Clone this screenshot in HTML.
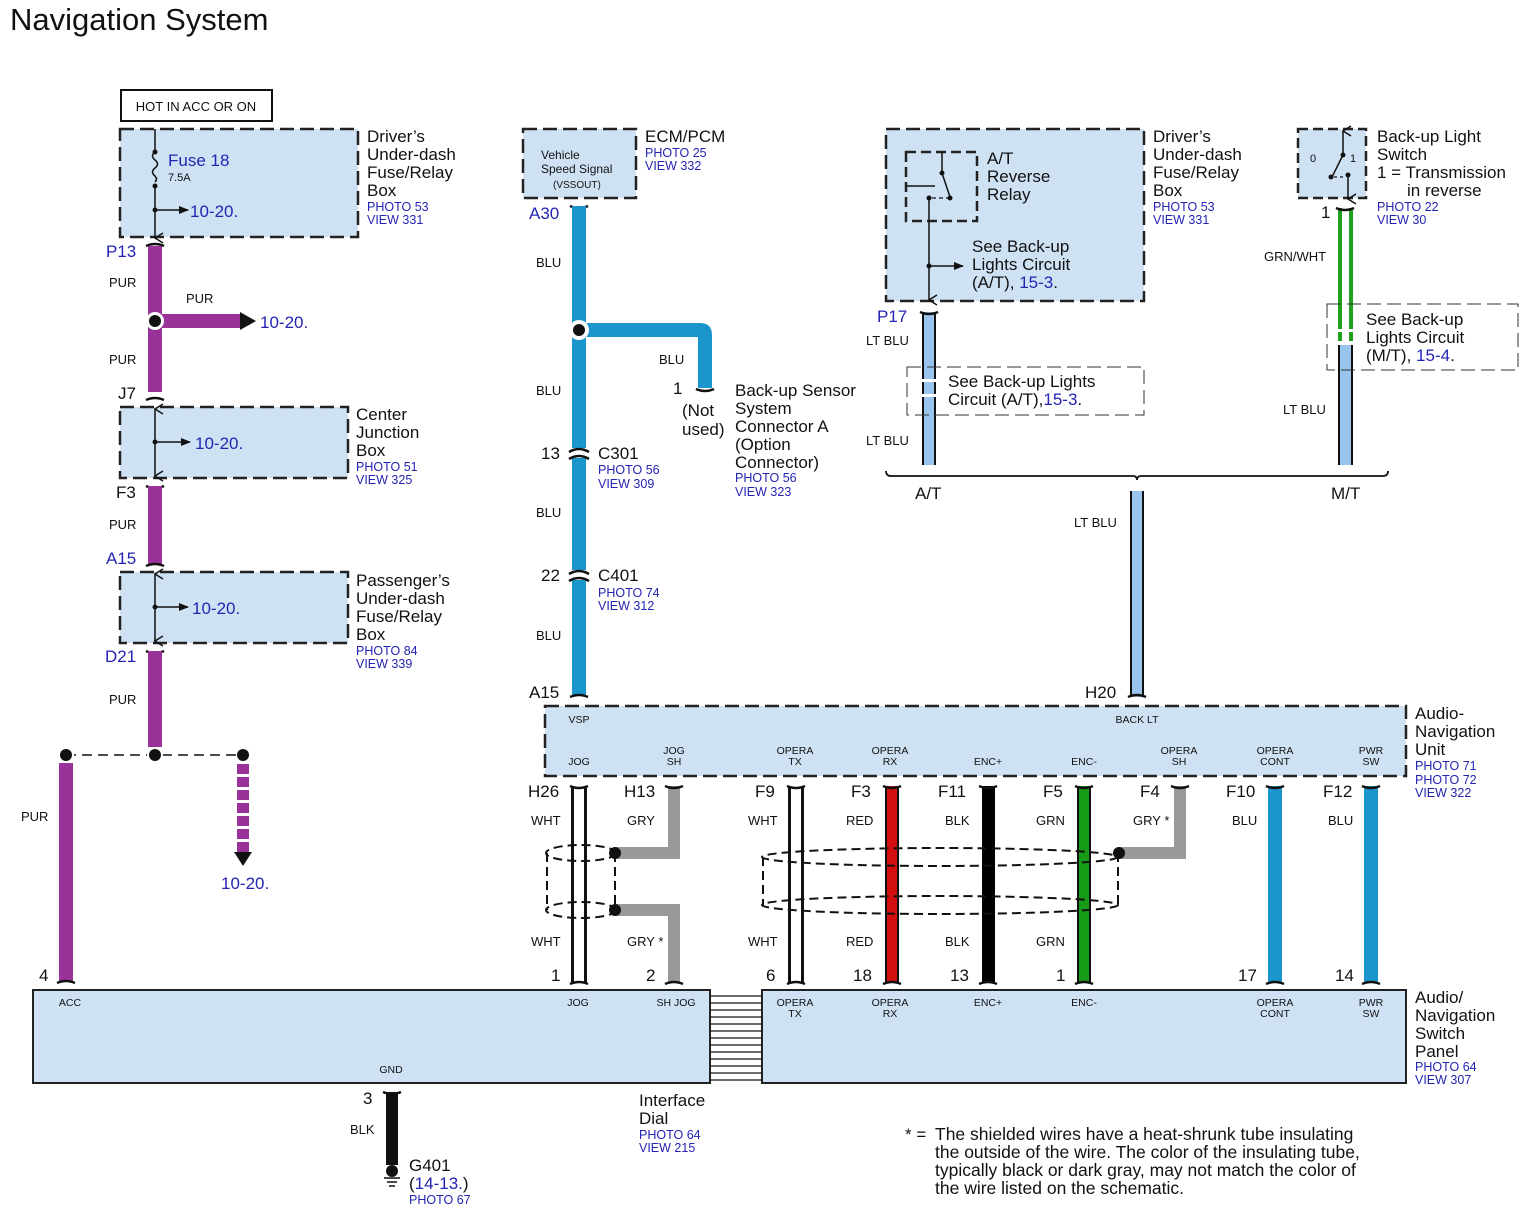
<!DOCTYPE html>
<html><head><meta charset="utf-8"><style>
html,body{margin:0;padding:0;background:#fff;}
svg{display:block;font-family:"Liberation Sans",Arial,sans-serif;}
.L{font-size:17px;fill:#111;}
.B{font-size:17px;fill:#2424b4;}
.P{font-size:12.5px;fill:#2424b4;}
.W{font-size:13px;fill:#111;}
.s{font-size:10.5px;fill:#111;}
.n{font-size:17px;fill:#111;}
.box{fill:#cfe2f3;stroke:#222;stroke-width:2.5;stroke-dasharray:14 6;}
.sbox{fill:#cfe2f3;stroke:#222;stroke-width:2;}
.cap{fill:none;stroke:#111;stroke-width:2.5;}
</style></head><body>
<svg width="1526" height="1222" viewBox="0 0 1526 1222" xmlns="http://www.w3.org/2000/svg">
<defs>
<marker id="ar" markerWidth="10" markerHeight="10" refX="9" refY="5" orient="auto" markerUnits="userSpaceOnUse"><path d="M0,1 L10,5 L0,9 z" fill="#111"/></marker>
<marker id="av" markerWidth="12" markerHeight="10" refX="6" refY="9" orient="auto" markerUnits="userSpaceOnUse"><path d="M1,1 L6,9 L11,1" fill="none" stroke="#111" stroke-width="1.5"/></marker>
</defs>
<text x="10" y="30" style="font-size:31px;fill:#111">Navigation System</text>

<!-- LEFT COLUMN -->
<rect x="121" y="90" width="151" height="31" fill="#fff" stroke="#111" stroke-width="2"/>
<text x="196" y="111" text-anchor="middle" style="font-size:13px;fill:#111">HOT IN ACC OR ON</text>
<rect class="box" x="120" y="129" width="238" height="108"/>
<line x1="155" y1="129" x2="155" y2="152" stroke="#111" stroke-width="1.5"/>
<path d="M155,152 q-5,4 0,8 q5,4 0,8 q-5,4 0,8 q3,3 0,6" fill="none" stroke="#111" stroke-width="1.5"/>
<circle cx="155" cy="152" r="2.5" fill="#111"/><circle cx="155" cy="186" r="2.5" fill="#111"/>
<line x1="155" y1="186" x2="155" y2="238" stroke="#111" stroke-width="1.5" marker-end="url(#av)"/>
<circle cx="155" cy="210" r="2.5" fill="#111"/>
<line x1="155" y1="210" x2="188" y2="210" stroke="#111" stroke-width="1.5" marker-end="url(#ar)"/>
<text x="168" y="166" class="B">Fuse 18</text>
<text x="168" y="181" style="font-size:11px;fill:#111">7.5A</text>
<text x="190" y="217" class="B">10-20.</text>
<text x="367" y="142" class="L">Driver’s</text><text x="367" y="160" class="L">Under-dash</text><text x="367" y="178" class="L">Fuse/Relay</text><text x="367" y="196" class="L">Box</text>
<text x="367" y="211" class="P">PHOTO 53</text><text x="367" y="224" class="P">VIEW 331</text>

<text x="106" y="257" class="B">P13</text>
<path class="cap" d="M146,246 q9,-4 18,0"/>
<rect x="148" y="246" width="14" height="146" fill="#993399"/>
<rect x="162" y="314" width="78" height="14" fill="#993399"/>
<path d="M240,312 L256,321 L240,330 z" fill="#111"/>
<circle cx="155" cy="321" r="9" fill="#fff"/><circle cx="155" cy="321" r="6" fill="#111"/>
<text x="260" y="328" class="B">10-20.</text>
<text x="109" y="287" class="W">PUR</text><text x="186" y="303" class="W">PUR</text><text x="109" y="364" class="W">PUR</text>
<path class="cap" d="M146,400 q9,-4 18,0"/>
<text x="118" y="399" class="n">J7</text>
<rect class="box" x="120" y="407" width="228" height="71"/>
<line x1="155" y1="409" x2="155" y2="476" stroke="#111" stroke-width="1.5" marker-start="url(#av)" marker-end="url(#av)"/>
<circle cx="155" cy="442" r="2.5" fill="#111"/>
<line x1="155" y1="442" x2="190" y2="442" stroke="#111" stroke-width="1.5" marker-end="url(#ar)"/>
<text x="195" y="449" class="B">10-20.</text>
<text x="356" y="420" class="L">Center</text><text x="356" y="438" class="L">Junction</text><text x="356" y="456" class="L">Box</text>
<text x="356" y="471" class="P">PHOTO 51</text><text x="356" y="484" class="P">VIEW 325</text>
<text x="116" y="498" class="n">F3</text>
<path class="cap" d="M146,486 q9,4 18,0"/>
<rect x="148" y="486" width="14" height="78" fill="#993399"/>
<text x="109" y="529" class="W">PUR</text>
<text x="106" y="564" class="B">A15</text>
<path class="cap" d="M146,566 q9,-4 18,0"/>
<rect class="box" x="120" y="572" width="228" height="71"/>
<line x1="155" y1="574" x2="155" y2="641" stroke="#111" stroke-width="1.5" marker-start="url(#av)" marker-end="url(#av)"/>
<circle cx="155" cy="607" r="2.5" fill="#111"/>
<line x1="155" y1="607" x2="188" y2="607" stroke="#111" stroke-width="1.5" marker-end="url(#ar)"/>
<text x="192" y="614" class="B">10-20.</text>
<text x="356" y="586" class="L">Passenger’s</text><text x="356" y="604" class="L">Under-dash</text><text x="356" y="622" class="L">Fuse/Relay</text><text x="356" y="640" class="L">Box</text>
<text x="356" y="655" class="P">PHOTO 84</text><text x="356" y="668" class="P">VIEW 339</text>
<text x="105" y="662" class="B">D21</text>
<path class="cap" d="M146,651 q9,4 18,0"/>
<rect x="148" y="651" width="14" height="96" fill="#993399"/>
<text x="109" y="704" class="W">PUR</text>
<line x1="66" y1="755" x2="243" y2="755" stroke="#111" stroke-width="1.5" stroke-dasharray="10 6"/>
<rect x="59" y="763" width="14" height="218" fill="#993399"/>
<circle cx="66" cy="755" r="8" fill="#fff"/><circle cx="66" cy="755" r="6" fill="#111"/>
<circle cx="155" cy="755" r="8" fill="#fff"/><circle cx="155" cy="755" r="6" fill="#111"/>
<circle cx="243" cy="755" r="6" fill="#111"/>
<line x1="243" y1="764" x2="243" y2="852" stroke="#993399" stroke-width="12" stroke-dasharray="10 3"/>
<path d="M234,852 L252,852 L243,866 z" fill="#111"/>
<text x="221" y="889" class="B">10-20.</text>
<text x="21" y="821" class="W">PUR</text>
<text x="39" y="981" class="n">4</text>
<path class="cap" d="M57,983 q9,-4 18,0"/>

<!-- BOTTOM PANEL -->
<rect class="sbox" x="33" y="990" width="677" height="93"/>
<rect class="sbox" x="762" y="990" width="644" height="93"/>
<g stroke="#111" stroke-width="1.3">
<line x1="710" y1="996" x2="762" y2="996"/><line x1="710" y1="1003" x2="762" y2="1003"/><line x1="710" y1="1010" x2="762" y2="1010"/><line x1="710" y1="1017" x2="762" y2="1017"/><line x1="710" y1="1024" x2="762" y2="1024"/><line x1="710" y1="1031" x2="762" y2="1031"/><line x1="710" y1="1038" x2="762" y2="1038"/><line x1="710" y1="1045" x2="762" y2="1045"/><line x1="710" y1="1052" x2="762" y2="1052"/><line x1="710" y1="1059" x2="762" y2="1059"/><line x1="710" y1="1066" x2="762" y2="1066"/><line x1="710" y1="1073" x2="762" y2="1073"/><line x1="710" y1="1080" x2="762" y2="1080"/>
</g>
<g class="s" text-anchor="middle">
<text x="70" y="1006" class="s">ACC</text><text x="578" y="1006" class="s">JOG</text><text x="676" y="1006" class="s">SH JOG</text>
<text x="391" y="1073" class="s">GND</text>
<text x="795" y="1006" class="s">OPERA</text><text x="795" y="1017" class="s">TX</text>
<text x="890" y="1006" class="s">OPERA</text><text x="890" y="1017" class="s">RX</text>
<text x="988" y="1006" class="s">ENC+</text><text x="1084" y="1006" class="s">ENC-</text>
<text x="1275" y="1006" class="s">OPERA</text><text x="1275" y="1017" class="s">CONT</text>
<text x="1371" y="1006" class="s">PWR</text><text x="1371" y="1017" class="s">SW</text>
</g>
<text x="1415" y="1003" class="L">Audio/</text><text x="1415" y="1021" class="L">Navigation</text><text x="1415" y="1039" class="L">Switch</text><text x="1415" y="1057" class="L">Panel</text>
<text x="1415" y="1071" class="P">PHOTO 64</text><text x="1415" y="1084" class="P">VIEW 307</text>

<path class="cap" d="M383,1092 q9,4 18,0"/>
<rect x="386" y="1092" width="12" height="73" fill="#111"/>
<text x="363" y="1104" class="n">3</text><text x="350" y="1134" class="W">BLK</text>
<circle cx="392" cy="1171" r="6" fill="#111"/>
<line x1="384" y1="1178" x2="400" y2="1178" stroke="#111" stroke-width="1.5"/>
<line x1="387" y1="1182" x2="397" y2="1182" stroke="#111" stroke-width="1.5"/>
<line x1="389" y1="1186" x2="395" y2="1186" stroke="#111" stroke-width="1.5"/>
<text x="409" y="1171" class="L">G401</text>
<text x="409" y="1189" class="L">(<tspan fill="#2424b4">14-13.</tspan>)</text>
<text x="409" y="1204" class="P">PHOTO 67</text>
<text x="639" y="1106" class="L">Interface</text><text x="639" y="1124" class="L">Dial</text>
<text x="639" y="1139" class="P">PHOTO 64</text><text x="639" y="1152" class="P">VIEW 215</text>
<text x="905" y="1140" style="font-size:17px;fill:#111">* =</text>
<g style="font-size:17.5px;fill:#111">
<text x="935" y="1140">The shielded wires have a heat-shrunk tube insulating</text>
<text x="935" y="1158">the outside of the wire. The color of the insulating tube,</text>
<text x="935" y="1176">typically black or dark gray, may not match the color of</text>
<text x="935" y="1194">the wire listed on the schematic.</text>
</g>

<!-- MIDDLE: ECM -->
<rect class="box" x="523" y="129" width="113" height="69"/>
<text x="541" y="159" style="font-size:12px;fill:#111">Vehicle</text>
<text x="541" y="173" style="font-size:12px;fill:#111">Speed Signal</text>
<text x="553" y="188" style="font-size:10px;fill:#111">(VSSOUT)</text>
<text x="645" y="142" class="L">ECM/PCM</text>
<text x="645" y="157" class="P">PHOTO 25</text><text x="645" y="170" class="P">VIEW 332</text>
<text x="529" y="219" class="B">A30</text>
<path class="cap" d="M570,206 q9,4 18,0"/>
<rect x="572" y="206" width="14" height="490" fill="#1b96cc"/>
<path d="M586,323 L700,323 Q712,323 712,335 L712,388 L698,388 L698,337 L586,337 z" fill="#1b96cc"/>
<path class="cap" d="M696,389 q9,4 18,0"/>
<circle cx="579" cy="330" r="10" fill="#fff"/><circle cx="579" cy="330" r="6" fill="#111"/>
<text x="536" y="267" class="W">BLU</text><text x="659" y="364" class="W">BLU</text>
<text x="536" y="395" class="W">BLU</text><text x="536" y="517" class="W">BLU</text><text x="536" y="640" class="W">BLU</text>
<text x="673" y="394" class="n">1</text>
<text x="682" y="416" class="L">(Not</text><text x="682" y="435" class="L">used)</text>
<text x="735" y="396" class="L">Back-up Sensor</text><text x="735" y="414" class="L">System</text><text x="735" y="432" class="L">Connector A</text><text x="735" y="450" class="L">(Option</text><text x="735" y="468" class="L">Connector)</text>
<text x="735" y="482" class="P">PHOTO 56</text><text x="735" y="496" class="P">VIEW 323</text>
<rect x="568" y="448" width="22" height="10" fill="#fff"/>
<path class="cap" d="M569,452 q10,-6 20,0 M569,459 q10,-6 20,0"/>
<text x="541" y="459" class="n">13</text>
<text x="598" y="459" class="L">C301</text><text x="598" y="474" class="P">PHOTO 56</text><text x="598" y="488" class="P">VIEW 309</text>
<rect x="568" y="570" width="22" height="10" fill="#fff"/>
<path class="cap" d="M569,574 q10,-6 20,0 M569,581 q10,-6 20,0"/>
<text x="541" y="581" class="n">22</text>
<text x="598" y="581" class="L">C401</text><text x="598" y="597" class="P">PHOTO 74</text><text x="598" y="610" class="P">VIEW 312</text>
<text x="529" y="698" class="n">A15</text>
<path class="cap" d="M570,697 q9,-4 18,0"/>

<!-- AUDIO NAV UNIT -->
<rect class="box" x="545" y="706" width="861" height="70"/>
<g text-anchor="middle">
<text x="579" y="723" class="s">VSP</text><text x="1137" y="723" class="s">BACK LT</text>
<text x="579" y="765" class="s">JOG</text>
<text x="674" y="754" class="s">JOG</text><text x="674" y="765" class="s">SH</text>
<text x="795" y="754" class="s">OPERA</text><text x="795" y="765" class="s">TX</text>
<text x="890" y="754" class="s">OPERA</text><text x="890" y="765" class="s">RX</text>
<text x="988" y="765" class="s">ENC+</text><text x="1084" y="765" class="s">ENC-</text>
<text x="1179" y="754" class="s">OPERA</text><text x="1179" y="765" class="s">SH</text>
<text x="1275" y="754" class="s">OPERA</text><text x="1275" y="765" class="s">CONT</text>
<text x="1371" y="754" class="s">PWR</text><text x="1371" y="765" class="s">SW</text>
</g>
<text x="1415" y="719" class="L">Audio-</text><text x="1415" y="737" class="L">Navigation</text><text x="1415" y="755" class="L">Unit</text>
<text x="1415" y="770" class="P">PHOTO 71</text><text x="1415" y="784" class="P">PHOTO 72</text><text x="1415" y="797" class="P">VIEW 322</text>

<!-- lower wires -->
<rect x="571" y="786" width="16" height="197" fill="#111"/><rect x="574" y="786" width="10" height="197" fill="#fff"/>
<path d="M674,786 L674,853 L615,853" fill="none" stroke="#999" stroke-width="12"/>
<path d="M615,910 L674,910 L674,983" fill="none" stroke="#999" stroke-width="12"/>
<rect x="788" y="786" width="16" height="197" fill="#111"/><rect x="791" y="786" width="10" height="197" fill="#fff"/>
<rect x="885" y="786" width="14" height="197" fill="#111"/><rect x="887" y="786" width="10" height="197" fill="#d40f0f"/>
<rect x="982" y="786" width="13" height="197" fill="#000"/>
<rect x="1077" y="786" width="14" height="197" fill="#111"/><rect x="1079" y="786" width="10" height="197" fill="#169c16"/>
<path d="M1180,786 L1180,853 L1119,853" fill="none" stroke="#999" stroke-width="12"/>
<rect x="1268" y="786" width="14" height="197" fill="#1b96cc"/>
<rect x="1364" y="786" width="14" height="197" fill="#1b96cc"/>
<g class="cap">
<path d="M570,786 q9,4 18,0"/><path d="M665,786 q9,4 18,0"/><path d="M787,786 q9,4 18,0"/><path d="M883,786 q9,4 18,0"/><path d="M979,786 q9,4 18,0"/><path d="M1075,786 q9,4 18,0"/><path d="M1171,786 q9,4 18,0"/><path d="M1266,786 q9,4 18,0"/><path d="M1362,786 q9,4 18,0"/>
<path d="M570,984 q9,-4 18,0"/><path d="M665,984 q9,-4 18,0"/><path d="M787,984 q9,-4 18,0"/><path d="M883,984 q9,-4 18,0"/><path d="M979,984 q9,-4 18,0"/><path d="M1075,984 q9,-4 18,0"/><path d="M1266,984 q9,-4 18,0"/><path d="M1362,984 q9,-4 18,0"/>
</g>
<!-- shields -->
<g fill="none" stroke="#111" stroke-width="2" stroke-dasharray="9 5">
<ellipse cx="581" cy="853" rx="35" ry="8"/><ellipse cx="581" cy="910" rx="35" ry="8"/>
<line x1="547" y1="853" x2="547" y2="910"/><line x1="615" y1="853" x2="615" y2="910"/>
<ellipse cx="940" cy="857" rx="178" ry="9"/><ellipse cx="940" cy="905" rx="178" ry="9"/>
<line x1="763" y1="857" x2="763" y2="905"/><line x1="1118" y1="853" x2="1118" y2="905"/>
</g>
<circle cx="615" cy="853" r="6" fill="#111"/><circle cx="615" cy="910" r="6" fill="#111"/><circle cx="1119" cy="853" r="6" fill="#111"/>
<g class="n">
<text x="528" y="797" class="n">H26</text><text x="624" y="797" class="n">H13</text><text x="755" y="797" class="n">F9</text><text x="851" y="797" class="n">F3</text><text x="938" y="797" class="n">F11</text><text x="1043" y="797" class="n">F5</text><text x="1140" y="797" class="n">F4</text><text x="1226" y="797" class="n">F10</text><text x="1323" y="797" class="n">F12</text>
<text x="551" y="981" class="n">1</text><text x="646" y="981" class="n">2</text><text x="766" y="981" class="n">6</text><text x="853" y="981" class="n">18</text><text x="950" y="981" class="n">13</text><text x="1056" y="981" class="n">1</text><text x="1238" y="981" class="n">17</text><text x="1335" y="981" class="n">14</text>
</g>
<text x="531" y="825" class="W">WHT</text><text x="627" y="825" class="W">GRY</text><text x="748" y="825" class="W">WHT</text><text x="846" y="825" class="W">RED</text><text x="945" y="825" class="W">BLK</text><text x="1036" y="825" class="W">GRN</text><text x="1133" y="825" class="W">GRY *</text><text x="1232" y="825" class="W">BLU</text><text x="1328" y="825" class="W">BLU</text>
<text x="531" y="946" class="W">WHT</text><text x="627" y="946" class="W">GRY *</text><text x="748" y="946" class="W">WHT</text><text x="846" y="946" class="W">RED</text><text x="945" y="946" class="W">BLK</text><text x="1036" y="946" class="W">GRN</text>

<!-- RIGHT TOP -->
<rect class="box" x="886" y="129" width="258" height="172"/>
<rect class="box" x="906" y="152" width="71" height="69" style="stroke-dasharray:10 5"/>
<line x1="942" y1="152" x2="942" y2="173" stroke="#111" stroke-width="1.5"/>
<circle cx="942" cy="173" r="2.5" fill="#111"/>
<line x1="942" y1="173" x2="950" y2="197" stroke="#111" stroke-width="1.5"/>
<circle cx="950" cy="198" r="2.5" fill="#111"/>
<line x1="906" y1="186" x2="935" y2="186" stroke="#111" stroke-width="1.5"/>
<line x1="932" y1="198" x2="948" y2="198" stroke="#111" stroke-width="1.3" stroke-dasharray="4 3"/>
<circle cx="929" cy="198" r="2.5" fill="#111"/>
<line x1="929" y1="198" x2="929" y2="300" stroke="#111" stroke-width="1.5" marker-end="url(#av)"/>
<circle cx="929" cy="266" r="2.5" fill="#111"/>
<line x1="929" y1="266" x2="963" y2="266" stroke="#111" stroke-width="1.5" marker-end="url(#ar)"/>
<text x="987" y="164" class="L">A/T</text><text x="987" y="182" class="L">Reverse</text><text x="987" y="200" class="L">Relay</text>
<text x="972" y="252" class="L">See Back-up</text><text x="972" y="270" class="L">Lights Circuit</text>
<text x="972" y="288" class="L">(A/T), <tspan fill="#2424b4">15-3</tspan>.</text>
<text x="1153" y="142" class="L">Driver’s</text><text x="1153" y="160" class="L">Under-dash</text><text x="1153" y="178" class="L">Fuse/Relay</text><text x="1153" y="196" class="L">Box</text>
<text x="1153" y="211" class="P">PHOTO 53</text><text x="1153" y="224" class="P">VIEW 331</text>
<text x="877" y="322" class="B">P17</text>
<rect x="922" y="312" width="14" height="153" fill="#111"/><rect x="924" y="312" width="10" height="153" fill="#99c4ee"/>
<rect x="920" y="379" width="18" height="3" fill="#fff"/><rect x="920" y="394" width="18" height="3" fill="#fff"/>
<path class="cap" d="M920,312 q9,4 18,0"/>
<text x="866" y="345" class="W">LT BLU</text><text x="866" y="445" class="W">LT BLU</text>
<rect x="907" y="367" width="237" height="48" fill="none" stroke="#333" stroke-width="1" stroke-dasharray="14 6"/>
<text x="948" y="387" class="L">See Back-up Lights</text>
<text x="948" y="405" class="L">Circuit (A/T),<tspan fill="#2424b4">15-3</tspan>.</text>

<rect class="box" x="1298" y="129" width="68" height="69" style="stroke-dasharray:10 5"/>
<line x1="1343" y1="131" x2="1343" y2="154" stroke="#111" stroke-width="1.5" marker-start="url(#av)"/>
<circle cx="1343" cy="155" r="2.5" fill="#111"/>
<line x1="1343" y1="155" x2="1332" y2="177" stroke="#111" stroke-width="1.5"/>
<circle cx="1331" cy="177" r="2.5" fill="#111"/>
<line x1="1334" y1="177" x2="1346" y2="177" stroke="#111" stroke-width="1.3" stroke-dasharray="3 3"/>
<circle cx="1348" cy="175" r="2.5" fill="#111"/>
<line x1="1348" y1="175" x2="1348" y2="199" stroke="#111" stroke-width="1.5" marker-end="url(#av)"/>
<text x="1310" y="162" style="font-size:11px;fill:#111">0</text><text x="1350" y="162" style="font-size:11px;fill:#111">1</text>
<text x="1377" y="142" class="L">Back-up Light</text><text x="1377" y="160" class="L">Switch</text><text x="1377" y="178" class="L">1 = Transmission</text><text x="1407" y="196" class="L">in reverse</text>
<text x="1377" y="211" class="P">PHOTO 22</text><text x="1377" y="224" class="P">VIEW 30</text>
<text x="1321" y="218" class="n">1</text>
<rect x="1338" y="208" width="4" height="133" fill="#1fa01f"/><rect x="1349" y="208" width="4" height="133" fill="#1fa01f"/>
<rect x="1338" y="345" width="15" height="120" fill="#111"/><rect x="1340" y="345" width="11" height="120" fill="#99c4ee"/>
<rect x="1336" y="329" width="20" height="3" fill="#fff"/>
<path class="cap" d="M1336,208 q9,4 18,0"/>
<text x="1264" y="261" class="W">GRN/WHT</text>
<text x="1283" y="414" class="W">LT BLU</text>
<rect x="1327" y="304" width="191" height="66" fill="none" stroke="#333" stroke-width="1" stroke-dasharray="14 6"/>
<text x="1366" y="325" class="L">See Back-up</text><text x="1366" y="343" class="L">Lights Circuit</text>
<text x="1366" y="361" class="L">(M/T), <tspan fill="#2424b4">15-4</tspan>.</text>
<path d="M886,471 q0,5 5,5 L1133,476 q4,0 4,4 q0,-4 4,-4 L1383,476 q5,0 5,-5" fill="none" stroke="#111" stroke-width="1.8"/>
<text x="915" y="499" class="L">A/T</text><text x="1331" y="499" class="L">M/T</text>
<rect x="1130" y="491" width="14" height="206" fill="#111"/><rect x="1132" y="491" width="10" height="206" fill="#99c4ee"/>
<path class="cap" d="M1128,697 q9,-4 18,0"/>
<text x="1074" y="527" class="W">LT BLU</text>
<text x="1085" y="698" class="n">H20</text>
</svg>
</body></html>
